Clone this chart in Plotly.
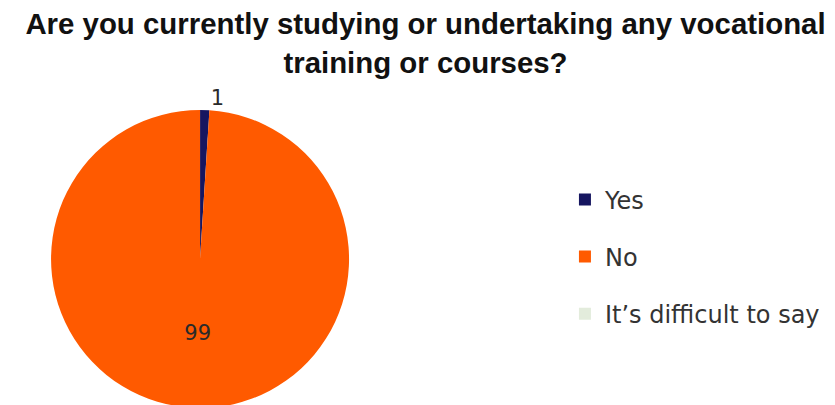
import plotly.graph_objects as go

categories = ["Yes", "No", "It’s difficult to say"]
values = [1, 99, 0]
colors = ["#161660", "#ff5a00", "#e3ecdc"]
text_positions = ["outside", "inside", "inside"]

fig = go.Figure()
fig.add_trace(go.Pie(
    labels=categories,
    values=values,
    marker=dict(colors=colors),
    sort=False,
    direction="clockwise",
    rotation=0,
    textinfo="value",
    textposition=text_positions,
    textfont=dict(family="DejaVu Sans", size=21, color="#2a2a2a"),
    insidetextorientation="horizontal",
    showlegend=False,
    domain=dict(x=[0.03, 0.43], y=[0.0, 0.745]),
    hoverinfo="label+value",
))

# legend entries (one group per category to get the spacing)
for cat, col in zip(categories, colors):
    fig.add_trace(go.Scatter(
        x=[None], y=[None], mode="markers", name=cat, legendgroup=cat,
        marker=dict(symbol="square", size=11, color=col),
        showlegend=True,
    ))

fig.update_layout(
    width=835, height=405,
    margin=dict(l=0, r=0, t=0, b=0),
    paper_bgcolor="white", plot_bgcolor="white",
    title=dict(
        text="Are you currently studying or undertaking any vocational<br>training or courses?",
        x=0.5, xanchor="center", y=0.935, yanchor="middle",
        font=dict(family="Liberation Sans", size=29.4, color="#111111", weight="bold"),
    ),
    xaxis=dict(visible=False), yaxis=dict(visible=False),
    legend=dict(
        x=0.667, xanchor="left", y=0.378, yanchor="middle",
        font=dict(family="DejaVu Sans", size=24, color="#333333"),
        tracegroupgap=23, itemsizing="constant",
    ),
)

fig.write_html("out.html")
